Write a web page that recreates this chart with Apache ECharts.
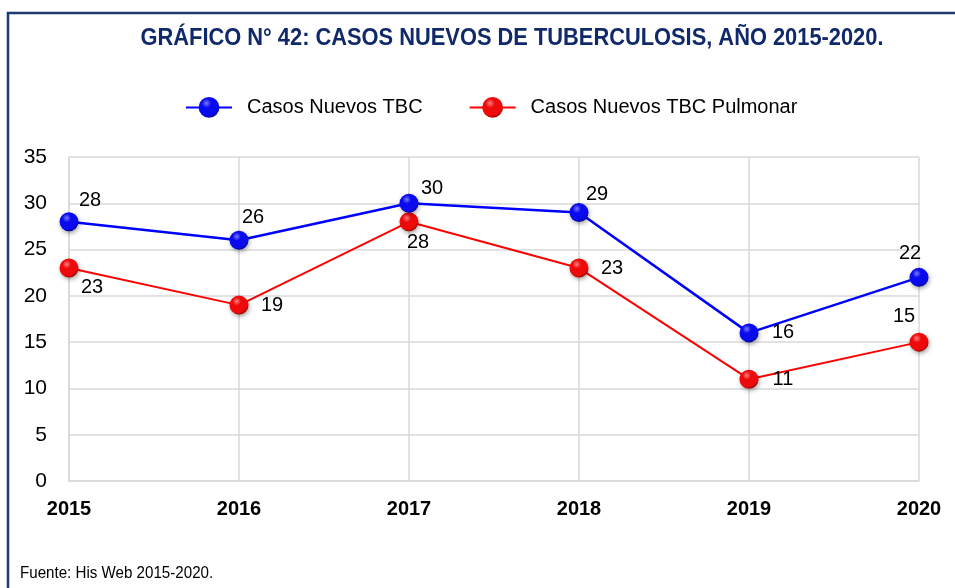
<!DOCTYPE html>
<html>
<head>
<meta charset="utf-8">
<script src="https://cdn.jsdelivr.net/npm/echarts@6/dist/echarts.min.js"></script>
<style>
  html, body { margin: 0; padding: 0; background: #fff; }
  #chart { width: 955px; height: 588px; }
</style>
</head>
<body>
<div id="chart"></div>
<script>
// Years on the category axis
const years = ['2015', '2016', '2017', '2018', '2019', '2020'];
// New tuberculosis cases per year
const casosTBC = [28, 26, 30, 29, 16, 22];
// New pulmonary tuberculosis cases per year
const casosPulmonar = [23, 19, 28, 23, 11, 15];
// Y axis ticks
const yTicks = [0, 5, 10, 15, 20, 25, 30, 35];

// Label offsets (dx, dy) from each point's centre
const offsetsTBC = [[21, -21], [14, -23], [23, -15], [18, -18], [34, 0], [-9, -24]];
const offsetsPulmonar = [[23, 19], [33, 0], [9, 21], [33, 0], [34, 0], [-15, -26]];

const FONT = '"Liberation Sans", Arial, sans-serif';

function sphere(light, base, dark) {
  return {
    type: 'radial', x: 0.38, y: 0.3, r: 0.75,
    colorStops: [
      { offset: 0, color: light },
      { offset: 0.3, color: base },
      { offset: 0.78, color: base },
      { offset: 1, color: dark }
    ]
  };
}

function buildData(values, offsets) {
  return values.map((v, i) => ({
    value: v,
    label: { offset: offsets[i] }
  }));
}

const chart = echarts.init(document.getElementById('chart'), null, { renderer: 'canvas' });

chart.setOption({
  backgroundColor: '#ffffff',
  animation: false,
  graphic: [
    {
      type: 'rect',
      shape: { x: 8, y: 13, width: 960, height: 600 },
      style: { fill: 'none', stroke: '#1f3a6e', lineWidth: 2.5 },
      z: 100
    },
    {
      // chart title, horizontally condensed
      type: 'text',
      x: 512, y: 38,
      scaleX: 0.91,
      style: {
        text: 'GRÁFICO N° 42: CASOS NUEVOS DE TUBERCULOSIS, AÑO 2015-2020.',
        font: 'bold 24px ' + FONT, fill: '#10296b',
        align: 'center', verticalAlign: 'middle'
      }
    },
    {
      type: 'text',
      x: 20, y: 573,
      scaleX: 0.89,
      style: {
        text: 'Fuente: His Web 2015-2020.', font: '17px ' + FONT, fill: '#000',
        verticalAlign: 'middle'
      }
    }
  ],
  legend: {
    top: 92, left: 180,
    itemGap: 46,
    itemWidth: 46, itemHeight: 26,
    textStyle: { fontFamily: FONT, fontSize: 20, color: '#000', padding: [0, 0, 0, 10] },
    data: ['Casos Nuevos TBC', 'Casos Nuevos TBC Pulmonar']
  },
  grid: { left: 69, right: 36, top: 157, bottom: 107 },
  xAxis: {
    type: 'category',
    data: years,
    boundaryGap: false,
    axisLine: { lineStyle: { color: '#d9d9d9', width: 1.5 } },
    axisTick: { show: false },
    splitLine: { show: true, lineStyle: { color: '#d9d9d9', width: 1.5 } },
    axisLabel: { fontFamily: FONT, fontWeight: 'bold', fontSize: 20, color: '#000', margin: 18 }
  },
  yAxis: {
    type: 'value',
    min: yTicks[0], max: yTicks[yTicks.length - 1], interval: 5,
    axisLine: { show: true, lineStyle: { color: '#d9d9d9', width: 1.5 } },
    axisTick: { show: false },
    splitLine: { lineStyle: { color: '#d9d9d9', width: 1.5 } },
    axisLabel: { fontFamily: FONT, fontSize: 21, color: '#000', margin: 22 }
  },
  series: [
    {
      name: 'Casos Nuevos TBC',
      type: 'line',
      data: buildData(casosTBC, offsetsTBC),
      symbol: 'circle', symbolSize: 19,
      lineStyle: { color: '#0000ff', width: 2.5 },
      itemStyle: {
        color: sphere('#7a7aff', '#0a0aee', '#00007a'),
        shadowColor: 'rgba(0,0,0,0.35)', shadowBlur: 4, shadowOffsetX: 1, shadowOffsetY: 2
      },
      label: {
        show: true, position: 'inside', align: 'center', verticalAlign: 'middle',
        fontFamily: FONT, fontSize: 20, color: '#000'
      },
      z: 3
    },
    {
      name: 'Casos Nuevos TBC Pulmonar',
      type: 'line',
      data: buildData(casosPulmonar, offsetsPulmonar),
      symbol: 'circle', symbolSize: 19,
      lineStyle: { color: '#ff0000', width: 2 },
      itemStyle: {
        color: sphere('#ff8080', '#ee0a0a', '#8a0000'),
        shadowColor: 'rgba(0,0,0,0.35)', shadowBlur: 4, shadowOffsetX: 1, shadowOffsetY: 2
      },
      label: {
        show: true, position: 'inside', align: 'center', verticalAlign: 'middle',
        fontFamily: FONT, fontSize: 20, color: '#000'
      },
      z: 2
    }
  ]
});
</script>
</body>
</html>
